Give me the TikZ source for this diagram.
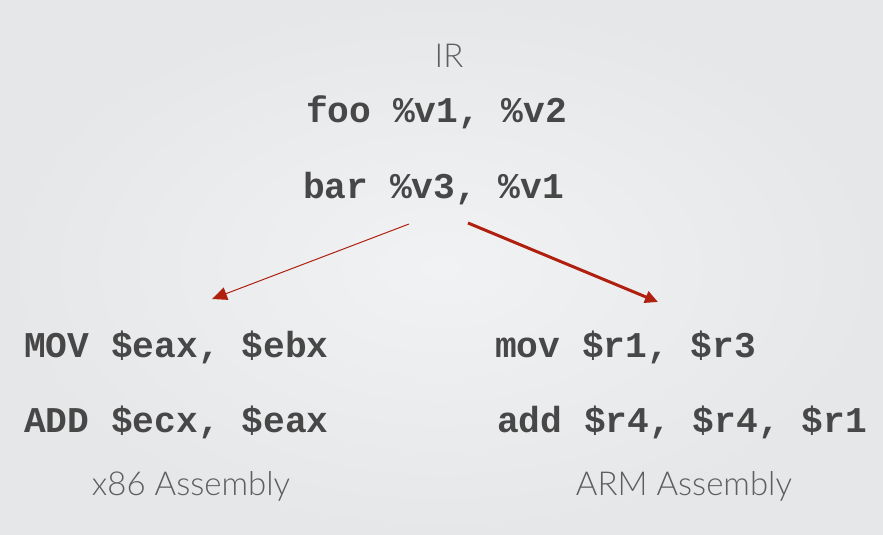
\documentclass[tikz,border=0pt]{standalone}
\usepackage{fontspec}
\usetikzlibrary{arrows.meta}
\newfontfamily\codefont{Liberation Mono}
\newfontfamily\labelfont{Lato Light}
\definecolor{codegray}{HTML}{474747}
\definecolor{labelgray}{HTML}{5E5E5E}
\definecolor{arrowred}{HTML}{B0200F}
\definecolor{bginner}{HTML}{F1F2F4}
\definecolor{bgouter}{HTML}{E6E7E9}
\tikzset{
  code/.style={anchor=base west, inner sep=0pt, text=codegray,
    font=\codefont\bfseries\fontsize{36.25}{40}\selectfont},
  caption/.style={anchor=base, inner sep=0pt, text=labelgray,
    font=\labelfont\fontsize{33}{36}\selectfont},
  thinarrow/.style={draw=arrowred, line width=1pt,
    -{Triangle[length=15pt,width=13pt]}, arrowred},
  thickarrow/.style={draw=arrowred, line width=3pt,
    -{Triangle[length=13pt,width=12pt]}, arrowred}
}
\begin{document}
\begin{tikzpicture}[x=1pt,y=-1pt]
  % slide background
  \shade[inner color=bginner, outer color=bgouter] (0,0) rectangle (883,535);
  \useasboundingbox (0,0) rectangle (883,535);

  % intermediate representation
  \node[caption] (ir) at (449,67) {IR};
  \node[code] (foo) at (306,122) {foo \%v1, \%v2};
  \node[code] (bar) at (303,198) {bar \%v3, \%v1};

  % x86 lowering
  \node[code] (mov86) at (24,357) {MOV \$eax, \$ebx};
  \node[code] (add86) at (24,432) {ADD \$ecx, \$eax};
  \node[caption] (x86) at (191,495) {x86 Assembly};

  % ARM lowering
  \node[code] (movarm) at (495,357) {mov \$r1, \$r3};
  \node[code] (addarm) at (497,432) {add \$r4, \$r4, \$r1};
  \node[caption] (arm) at (684,495) {ARM Assembly};

  % connectors
  \coordinate (lstart) at (409,224);
  \coordinate (lend) at (212,299);
  \coordinate (rstart) at (468,223);
  \coordinate (rend) at (658,302);
  \draw[thinarrow] (lstart) -- (lend);
  \draw[thickarrow] (rstart) -- (rend);
\end{tikzpicture}
\end{document}
